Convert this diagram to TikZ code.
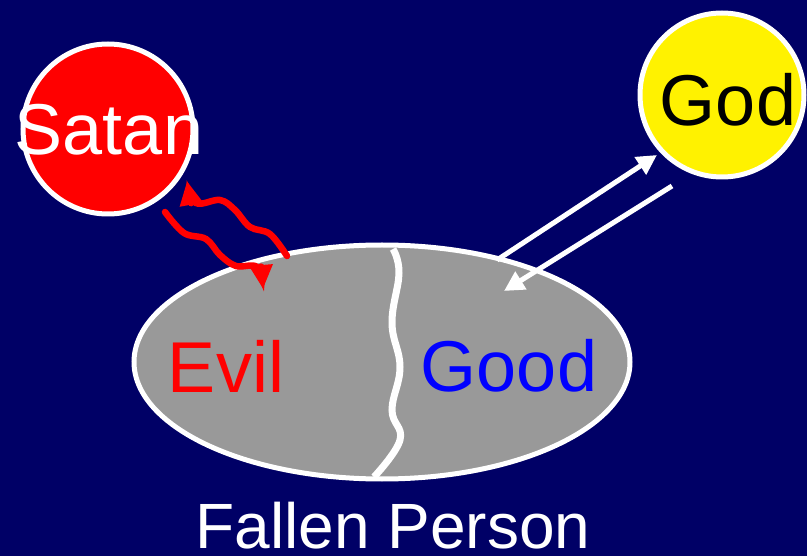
\documentclass[tikz,border=0pt]{standalone}
\usepackage{fontspec}
\setmainfont{Liberation Sans}
\usetikzlibrary{arrows.meta,shapes.geometric}
\definecolor{navy}{HTML}{000066}
\definecolor{grayfill}{HTML}{999999}
\begin{document}
\begin{tikzpicture}[x=1pt,y=-1pt,
  bigtext/.style={font=\fontsize{72}{80}\selectfont, inner sep=0pt},
  orb/.style={circle, draw=white, line width=5pt, inner sep=0pt},
  godarrow/.style={draw=white, line width=5pt, -{Triangle[length=20pt,width=20pt]}},
  satanarrow/.style={draw=red, line width=6.5pt, line cap=round, -{Triangle[length=24pt,width=22pt]}}]
\fill[navy] (0,0) rectangle (807,556);
\useasboundingbox (0,0) rectangle (807,556);
% person
\node[ellipse, draw=white, fill=grayfill, line width=5pt, minimum width=496pt, minimum height=234pt, inner sep=0pt] (person) at (382,362) {};
\draw[white, line width=7pt] plot[smooth, tension=0.7] coordinates {(393,249) (399,273) (392,323) (400,367) (392,410) (400,440) (374,477)};
% orbs
\node[orb, fill=red, minimum size=170pt] (satan) at (108,129) {};
\node[bigtext, text=white] (satanlbl) at (109,130) {Satan};
\node[orb, fill=yellow, minimum size=164pt] (god) at (722,95) {};
\node[bigtext, text=black] (godlbl) at (728,100) {God};
% labels
\node[bigtext, text=red] (evil) at (226,366) {Evil};
\node[bigtext, text=blue] (good) at (509,366) {Good};
\node[font=\fontsize{64}{70}\selectfont, text=white, inner sep=0pt, anchor=base] (fallen) at (393,548) {Fallen Person};
% god arrows
\coordinate (g1s) at (497,260);
\coordinate (g1e) at (657,155);
\coordinate (g2s) at (672,186);
\coordinate (g2e) at (504,291);
\draw[godarrow] (g1s) -- (g1e);
\draw[godarrow] (g2s) -- (g2e);
% satan arrows
\coordinate (s1s) at (165,212);
\coordinate (s1e) at (263,289);
\draw[satanarrow] plot[smooth, tension=0.6] coordinates {(s1s) (184,233) (206,239) (220,255) (236,266) (257,267) (263,289)};
\coordinate (s2s) at (287,256);
\coordinate (s2e) at (187,181);
\draw[satanarrow] plot[smooth, tension=0.6] coordinates {(s2s) (270,234) (250,227) (235,210) (220,200) (196,203) (187,181)};
\end{tikzpicture}
\end{document}
